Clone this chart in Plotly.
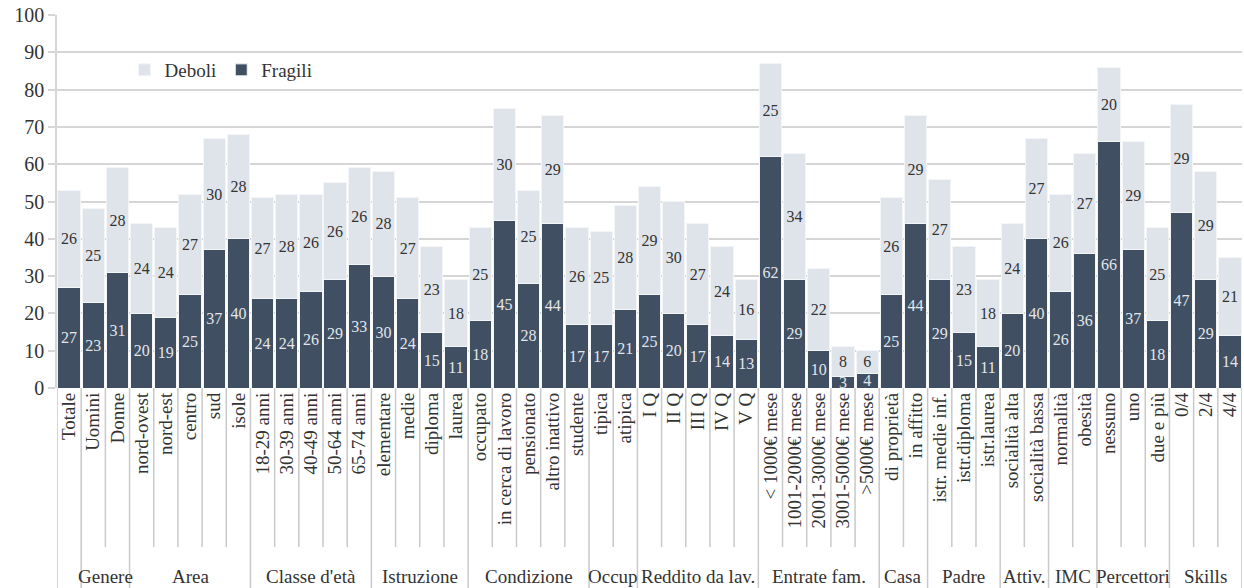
import plotly.graph_objects as go

categories = ["Totale", "Uomini", "Donne",
              "nord-ovest", "nord-est", "centro", "sud", "isole",
              "18-29 anni", "30-39 anni", "40-49 anni", "50-64 anni", "65-74 anni",
              "elementare", "medie", "diploma", "laurea",
              "occupato", "in cerca di lavoro", "pensionato", "altro inattivo", "studente",
              "tipica", "atipica",
              "I Q", "II Q", "III Q", "IV Q", "V Q",
              "&lt; 1000€ mese", "1001-2000€ mese", "2001-3000€ mese", "3001-5000€ mese", "&gt;5000€ mese",
              "di proprietà", "in affitto",
              "istr. medie inf.", "istr.diploma", "istr.laurea",
              "socialità alta", "socialità bassa",
              "normalità", "obesità",
              "nessuno", "uno", "due e più",
              "0/4", "2/4", "4/4"]

fragili = [27, 23, 31,
           20, 19, 25, 37, 40,
           24, 24, 26, 29, 33,
           30, 24, 15, 11,
           18, 45, 28, 44, 17,
           17, 21,
           25, 20, 17, 14, 13,
           62, 29, 10, 3, 4,
           25, 44,
           29, 15, 11,
           20, 40,
           26, 36,
           66, 37, 18,
           47, 29, 14]

deboli = [26, 25, 28,
          24, 24, 27, 30, 28,
          27, 28, 26, 26, 26,
          28, 27, 23, 18,
          25, 30, 25, 29, 26,
          25, 28,
          29, 30, 27, 24, 16,
          25, 34, 22, 8, 6,
          26, 29,
          27, 23, 18,
          24, 27,
          26, 27,
          20, 29, 25,
          29, 29, 21]

group_names = ["", "Genere", "Area", "Classe d'età", "Istruzione", "Condizione", "Occup",
               "Reddito da lav.", "Entrate fam.", "Casa", "Padre", "Attiv.", "IMC",
               "Percettori", "Skills"]
group_sizes = [1, 2, 5, 5, 4, 5, 2, 5, 5, 2, 3, 2, 2, 3, 3]

y_ticks = [0, 10, 20, 30, 40, 50, 60, 70, 80, 90, 100]

DARK = "#404f62"
LIGHT = "#dfe3ea"
GRID = "#d6d6d6"
SERIF = "Liberation Serif"

W, H = 1244, 588
M_L, M_R, M_T, M_B = 57, 2, 15, 200
plot_h = H - M_T - M_B

x_idx = list(range(len(categories)))

fig = go.Figure()
fig.add_trace(go.Bar(
    x=x_idx, y=fragili, name="Fragili",
    marker=dict(color=DARK, line=dict(color="#f4f5f7", width=1)),
    text=[str(v) for v in fragili], textposition="inside", insidetextanchor="middle",
    textangle=0, constraintext="none",
    textfont=dict(family=SERIF, size=16, color="#e3e6ea"),
))
fig.add_trace(go.Bar(
    x=x_idx, y=deboli, name="Deboli",
    marker=dict(color=LIGHT, line=dict(color="#f4f5f7", width=1)),
    text=[str(v) for v in deboli], textposition="inside", insidetextanchor="middle",
    textangle=0, constraintext="none",
    textfont=dict(family=SERIF, size=16, color="#333333"),
))

def py(pix):
    return (H - M_B - pix) / plot_h

group_bounds = [0]
pos = 0
for s in group_sizes:
    pos += s
    group_bounds.append(pos)

shapes = []
for i in range(len(categories) + 1):
    long_line = i in group_bounds
    shapes.append(dict(type="line", xref="x", yref="paper",
                       x0=i - 0.5, x1=i - 0.5,
                       y0=0, y1=py(H) if long_line else py(547),
                       line=dict(color="#c9c9c9", width=1.5), layer="below"))

annotations = []
for gi, name in enumerate(group_names):
    a, b = group_bounds[gi], group_bounds[gi + 1]
    if not name:
        continue
    annotations.append(dict(x=(a + b - 1) / 2, y=py(576), xref="x", yref="paper",
                            text=name, showarrow=False, xanchor="center", yanchor="middle",
                            font=dict(family=SERIF, size=19, color="#333333")))

fig.update_layout(
    width=W, height=H,
    margin=dict(l=M_L, r=M_R, t=M_T, b=M_B, pad=0),
    barmode="stack", bargap=0.08,
    plot_bgcolor="white", paper_bgcolor="white",
    font=dict(family=SERIF, color="#333333"),
    showlegend=True,
    legend=dict(orientation="h", x=0.057, y=py(70), xanchor="left", yanchor="middle",
                traceorder="reversed", itemwidth=30,
                font=dict(family=SERIF, size=19, color="#333333"),
                bgcolor="rgba(0,0,0,0)"),
    shapes=shapes, annotations=annotations,
)
fig.update_xaxes(range=[-0.5, len(categories) - 0.5], tickmode="array",
                 tickvals=x_idx, ticktext=categories, tickangle=-90,
                 showgrid=False, zeroline=False, showline=False, ticks="",
                 tickfont=dict(family=SERIF, size=19, color="#333333"))
fig.update_yaxes(range=[0, 100], tickmode="array", tickvals=y_ticks,
                 showgrid=True, gridcolor=GRID, gridwidth=1.5,
                 zeroline=False, showline=True, linecolor=GRID, linewidth=1.5,
                 ticks="outside", ticklen=7, tickcolor=GRID, tickwidth=1.5,
                 tickfont=dict(family=SERIF, size=20, color="#333333"))

fig.write_html("out.html")
